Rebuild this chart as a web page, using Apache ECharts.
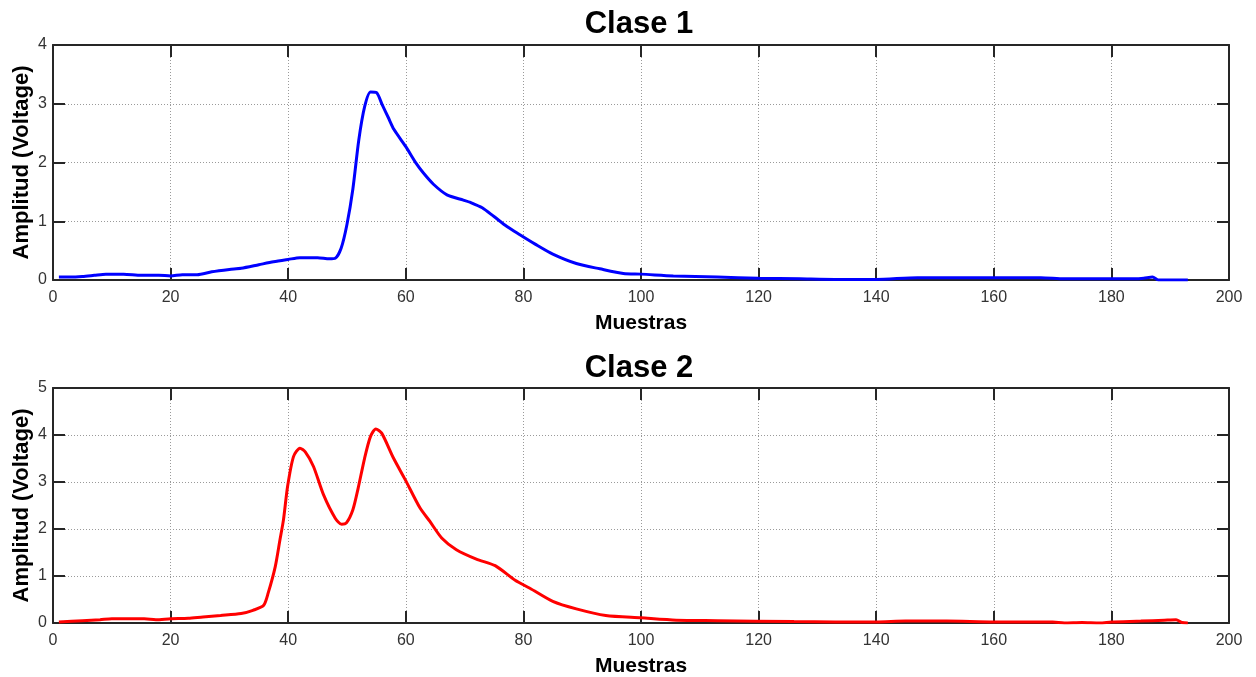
<!DOCTYPE html>
<html>
<head>
<meta charset="utf-8">
<script src="https://cdn.jsdelivr.net/npm/echarts@6/dist/echarts.min.js"></script>
<style>html,body{margin:0;padding:0;background:#fff;}#chart{width:1256px;height:677px;}</style>
</head>
<body>
<div id="chart"></div>
<script>
// Clase 1 (blue)
const clase1X = [1,3,5,7,9,12,15,18,20,22,24.5,27,30,32,35,37.5,40,42,45,47,48,49,50,51,52,53,54,55,56,57,58,60,61.8,63,64.7,67,69.8,71,73,75,77.2,79.4,82,85,89,93,97,100,105.5,113,120,127,133,140,147,160,168,172,184,185.5,187,188,193];
const clase1Y = [0.05,0.05,0.06,0.08,0.10,0.10,0.08,0.08,0.07,0.09,0.09,0.14,0.18,0.20,0.26,0.31,0.35,0.38,0.38,0.36,0.37,0.54,0.95,1.55,2.38,2.95,3.2,3.19,2.98,2.77,2.56,2.27,1.98,1.82,1.63,1.45,1.36,1.32,1.23,1.08,0.91,0.77,0.61,0.44,0.28,0.19,0.11,0.10,0.07,0.05,0.03,0.02,0.01,0.01,0.04,0.04,0.04,0.02,0.02,0.03,0.05,0.0,0.0];
// Clase 2 (red)
const clase2X = [1,5,8,10,15.5,17.5,20,23,25.5,28.5,32,34,35.8,36.6,37.8,38.6,39.2,39.9,40.9,42,42.9,44.3,46,48,49.1,49.9,51,51.9,53,54,54.9,55.9,57.9,59.9,62.4,64.1,66.1,68.6,72,75.2,78.6,81.1,85,89,94,100,106,113,126,140,145,152,160,170,172,175,178,180,185,189,191,192,193];
const clase2Y = [0.02,0.05,0.07,0.09,0.09,0.07,0.09,0.10,0.13,0.16,0.20,0.27,0.37,0.64,1.2,1.77,2.2,2.91,3.54,3.72,3.64,3.33,2.73,2.23,2.1,2.13,2.41,2.87,3.51,3.97,4.13,4.04,3.51,3.05,2.45,2.16,1.81,1.56,1.36,1.22,0.91,0.74,0.46,0.30,0.16,0.11,0.06,0.05,0.03,0.02,0.04,0.04,0.02,0.02,0.0,0.01,0.0,0.02,0.04,0.06,0.07,0.01,0.0];
const titles = ['Clase 1','Clase 2'];
const yMax = [4,5];
const xLabel = 'Muestras';
const yLabel = 'Amplitud (Voltage)';

const chart = echarts.init(document.getElementById('chart'), null, {renderer:'canvas'});
const font = 'Liberation Sans, Arial, Helvetica, sans-serif';
const axisCol = '#262626';
const grids = [
  {left:53, right:27, top:45, height:235, outerBoundsMode:'none', containLabel:false},
  {left:53, right:27, top:388, height:235, outerBoundsMode:'none', containLabel:false}
];
const xAxes = [], yAxes = [], series = [];
grids.forEach((g,i)=>{
  xAxes.push({
    type:'value', gridIndex:i, min:0, max:200, interval:20, position:'bottom',
    name:xLabel, nameLocation:'middle', nameGap:33, nameMoveOverlap:false,
    nameTextStyle:{fontFamily:font, fontWeight:'bold', fontSize:21, color:'#000'},
    axisLine:{show:true, onZero:false, lineStyle:{color:axisCol, width:2}},
    axisTick:{show:true, inside:true, length:12, lineStyle:{color:axisCol, width:2}},
    axisLabel:{fontFamily:font, fontSize:16, color:'#333', margin:10},
    splitLine:{show:true, lineStyle:{color:'#9a9a9a', type:[1,2], width:1}}
  });
  xAxes.push({
    type:'value', gridIndex:i, min:0, max:200, interval:20, position:'top',
    axisLine:{show:true, onZero:false, lineStyle:{color:axisCol, width:2}},
    axisTick:{show:true, inside:true, length:12, lineStyle:{color:axisCol, width:2}},
    axisLabel:{show:false}, splitLine:{show:false}
  });
  yAxes.push({
    type:'value', gridIndex:i, min:0, max:yMax[i], interval:1, position:'left',
    name:yLabel, nameLocation:'middle', nameGap:20, nameRotate:90, nameMoveOverlap:false,
    nameTextStyle:{fontFamily:font, fontWeight:'bold', fontSize:22, color:'#000'},
    axisLine:{show:true, onZero:false, lineStyle:{color:axisCol, width:2}},
    axisTick:{show:true, inside:true, length:12, lineStyle:{color:axisCol, width:2}},
    axisLabel:{fontFamily:font, fontSize:16, color:'#333', margin:6},
    splitLine:{show:true, lineStyle:{color:'#9a9a9a', type:[1,2], width:1}}
  });
  yAxes.push({
    type:'value', gridIndex:i, min:0, max:yMax[i], interval:1, position:'right',
    axisLine:{show:true, onZero:false, lineStyle:{color:axisCol, width:2}},
    axisTick:{show:true, inside:true, length:12, lineStyle:{color:axisCol, width:2}},
    axisLabel:{show:false}, splitLine:{show:false}
  });
});
const d1 = clase1X.map((x,k)=>[x, clase1Y[k]]);
const d2 = clase2X.map((x,k)=>[x, clase2Y[k]]);
series.push({type:'line', xAxisIndex:0, yAxisIndex:0, data:d1, showSymbol:false, smooth:0.25, lineStyle:{color:'#0000ff', width:3}, z:5});
series.push({type:'line', xAxisIndex:2, yAxisIndex:2, data:d2, showSymbol:false, smooth:0.25, lineStyle:{color:'#ff0000', width:3}, z:5});

chart.setOption({
  animation:false,
  backgroundColor:'#fff',
  title:[
    {text:titles[0], left:634, top:4, textAlign:'center', textStyle:{fontFamily:font, fontWeight:'bold', fontSize:31, color:'#000'}},
    {text:titles[1], left:634, top:348, textAlign:'center', textStyle:{fontFamily:font, fontWeight:'bold', fontSize:31, color:'#000'}}
  ],
  grid:grids,
  xAxis:xAxes,
  yAxis:yAxes,
  series:series
});
</script>
</body>
</html>
